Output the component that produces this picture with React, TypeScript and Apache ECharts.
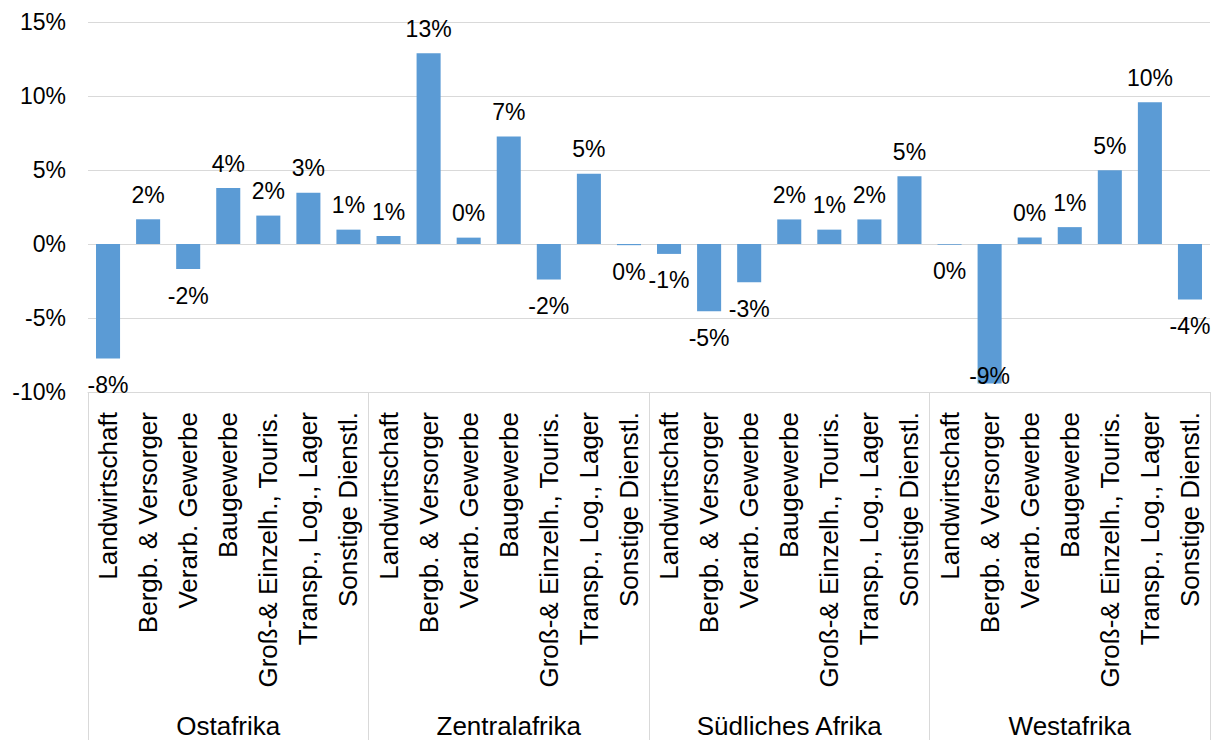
import React, { useEffect, useRef } from "react";
import * as echarts from "echarts";

// Sectors shown within each region
const sectors = [
  "Landwirtschaft",
  "Bergb. & Versorger",
  "Verarb. Gewerbe",
  "Baugewerbe",
  "Groß-& Einzelh., Touris.",
  "Transp., Log., Lager",
  "Sonstige Dienstl.",
];

const regions = ["Ostafrika", "Zentralafrika", "Südliches Afrika", "Westafrika"];

// Growth rates in percent, one array per region (sector order as above)
const ostafrika = [-7.73, 1.67, -1.69, 3.78, 1.92, 3.47, 0.97];
const zentralafrika = [0.54, 12.89, 0.43, 7.27, -2.4, 4.75, -0.08];
const suedlichesAfrika = [-0.67, -4.55, -2.59, 1.66, 0.97, 1.66, 4.58];
const westafrika = [-0.05, -9.42, 0.44, 1.14, 4.98, 9.57, -3.75];

const yTicks = { min: -10, max: 15, interval: 5 };

const FONT = "'Liberation Sans', Arial, sans-serif";
const BAR_COLOR = "#5b9bd5";
const LINE_COLOR = "#d9d9d9";

export default function App() {
  const ref = useRef<HTMLDivElement>(null);

  useEffect(() => {
    if (!ref.current) return;
    const chart = echarts.init(ref.current, null, { renderer: "svg" });

    const allValues = [ostafrika, zentralafrika, suedlichesAfrika, westafrika].flat();
    const categories = regions.flatMap(() => sectors);

    const fmt = (v: number) => {
      const r = Math.round(v);
      return `${r === 0 ? 0 : r}%`;
    };

    const data = allValues.map((v) => {
      const neg = v < 0;
      // the deepest bar reaches the bottom of the plot, so its label sits on the bar end
      const clipped = v < yTicks.min + 1;
      return {
        value: v,
        label: {
          position: neg ? "bottom" : "top",
          distance: clipped ? -19 : neg ? 15 : 13,
        },
      };
    });

    chart.setOption({
      animation: false,
      grid: { left: 88, right: 3, top: 22, bottom: 348, containLabel: false },
      xAxis: [
        {
          type: "category",
          data: categories,
          position: "bottom",
          axisLine: { show: true, onZero: false, lineStyle: { color: LINE_COLOR, width: 1 } },
          axisTick: { show: false },
          axisLabel: {
            interval: 0,
            rotate: 90,
            margin: 20,
            color: "#000",
            fontSize: 26,
            fontFamily: FONT,
          },
          splitLine: { show: false },
        },
        {
          type: "category",
          data: regions,
          position: "bottom",
          axisLine: { show: false, onZero: false },
          axisTick: {
            show: true,
            interval: 0,
            length: 348,
            lineStyle: { color: LINE_COLOR, width: 1 },
          },
          axisLabel: {
            interval: 0,
            margin: 321,
            color: "#000",
            fontSize: 26,
            fontFamily: FONT,
          },
          splitLine: { show: false },
        },
      ],
      yAxis: {
        type: "value",
        min: yTicks.min,
        max: yTicks.max,
        interval: yTicks.interval,
        axisLine: { show: false },
        axisTick: { show: false },
        axisLabel: {
          formatter: (v: number) => `${v}%`,
          margin: 22,
          color: "#000",
          fontSize: 23,
          fontFamily: FONT,
        },
        splitLine: { lineStyle: { color: LINE_COLOR, width: 1 } },
      },
      series: [
        {
          type: "bar",
          xAxisIndex: 0,
          barWidth: "60%",
          itemStyle: { color: BAR_COLOR },
          data,
          label: {
            show: true,
            color: "#000",
            fontSize: 23,
            fontFamily: FONT,
            formatter: (p: any) => fmt(p.value),
          },
        },
      ],
    });

    return () => chart.dispose();
  }, []);

  return (
    <div
      ref={ref}
      style={{ position: "fixed", left: 0, top: 0, width: 1213, height: 740, background: "#fff" }}
    />
  );
}
